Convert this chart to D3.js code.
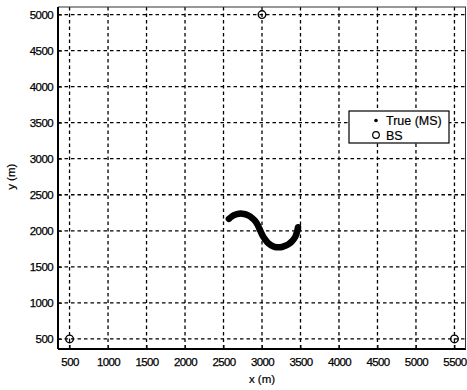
<!DOCTYPE html>
<html>
<head>
<meta charset="utf-8">
<script src="https://cdn.jsdelivr.net/npm/d3@7"></script>
<style>
  body { margin: 0; background: #fff; }
  svg { display: block; font-family: 'Liberation Sans', Arial, sans-serif; }
  .tick-label { font-size: 11.5px; fill: #000; stroke: #000; stroke-width: 0.25px; letter-spacing: -0.6px; }
  .grid line { stroke: #000; stroke-width: 1.3; stroke-dasharray: 3.5,3; }
</style>
</head>
<body>
<div id="chart"></div>
<script>
// MS trajectory (true positions)
const trackX = [2570, 2610, 2650, 2700, 2740, 2790, 2830, 2870, 2910, 2940, 2960, 2985, 3010, 3045, 3080, 3125, 3170, 3215, 3260, 3310, 3350, 3385, 3415, 3440, 3455, 3468];
const trackY = [2165, 2200, 2222, 2236, 2238, 2228, 2208, 2178, 2138, 2090, 2045, 1985, 1930, 1875, 1830, 1795, 1775, 1770, 1775, 1795, 1818, 1850, 1888, 1935, 1985, 2050];

// base stations
const bsX = [500, 3000, 5500];
const bsY = [500, 5000, 500];

const xTicks = [500, 1000, 1500, 2000, 2500, 3000, 3500, 4000, 4500, 5000, 5500];
const yTicks = [500, 1000, 1500, 2000, 2500, 3000, 3500, 4000, 4500, 5000];

const legendLabels = ['True (MS)', 'BS'];

const width = 467, height = 390;
const plot = { left: 58, right: 466, top: 7, bottom: 349 };

const svg = d3.select('#chart').append('svg')
    .attr('width', width)
    .attr('height', height);

const x = d3.scaleLinear().domain([350, 5650]).range([plot.left, plot.right]);
const y = d3.scaleLinear().domain([360, 5105]).range([plot.bottom, plot.top]);

// grid
const grid = svg.append('g').attr('class', 'grid');
grid.selectAll('.vg')
    .data(xTicks)
    .enter()
    .append('line')
    .attr('x1', d => x(d)).attr('x2', d => x(d))
    .attr('y1', plot.top).attr('y2', plot.bottom);
grid.selectAll('.hg')
    .data(yTicks)
    .enter()
    .append('line')
    .attr('x1', plot.left).attr('x2', plot.right)
    .attr('y1', d => y(d)).attr('y2', d => y(d));

// axes (ticks pointing inside, like matlab)
const xAxis = svg.append('g')
    .attr('transform', `translate(0,${plot.bottom})`)
    .call(d3.axisBottom(x).tickValues(xTicks).tickSize(-4).tickPadding(9).tickFormat(d3.format('d')));
const yAxis = svg.append('g')
    .attr('transform', `translate(${plot.left},0)`)
    .call(d3.axisLeft(y).tickValues(yTicks).tickSize(-4).tickPadding(5).tickFormat(d3.format('d')));

[xAxis, yAxis].forEach(a => {
    a.select('.domain').remove();
    a.selectAll('.tick line').attr('stroke', '#111').attr('stroke-width', 1);
    a.selectAll('.tick text').attr('class', 'tick-label').attr('font-family', null).attr('font-size', null);
});

// frame
svg.append('line')
    .attr('x1', plot.left).attr('x2', plot.right)
    .attr('y1', plot.top).attr('y2', plot.top)
    .attr('stroke', '#333').attr('stroke-width', 1.2);
svg.append('line')
    .attr('x1', plot.left).attr('x2', plot.left)
    .attr('y1', plot.top).attr('y2', plot.bottom)
    .attr('stroke', '#000').attr('stroke-width', 2);
svg.append('line')
    .attr('x1', plot.left).attr('x2', plot.right)
    .attr('y1', plot.bottom).attr('y2', plot.bottom)
    .attr('stroke', '#000').attr('stroke-width', 2);
svg.append('line')
    .attr('x1', plot.right - 0.5).attr('x2', plot.right - 0.5)
    .attr('y1', plot.top).attr('y2', plot.bottom)
    .attr('stroke', '#333').attr('stroke-width', 1);

// MS track
const track = trackX.map((v, i) => [v, trackY[i]]);
svg.append('path')
    .datum(track)
    .attr('fill', 'none')
    .attr('stroke', '#000')
    .attr('stroke-width', 6.5)
    .attr('stroke-linecap', 'round')
    .attr('stroke-linejoin', 'round')
    .attr('d', d3.line().x(d => x(d[0])).y(d => y(d[1])).curve(d3.curveCatmullRom));

// base stations
svg.selectAll('.bs')
    .data(bsX.map((v, i) => [v, bsY[i]]))
    .enter()
    .append('circle')
    .attr('class', 'bs')
    .attr('cx', d => x(d[0]))
    .attr('cy', d => y(d[1]))
    .attr('r', 3.8)
    .attr('fill', 'none')
    .attr('stroke', '#000')
    .attr('stroke-width', 1.4);

// axis labels
svg.append('text')
    .attr('x', x(3000))
    .attr('y', 383)
    .attr('text-anchor', 'middle')
    .attr('font-size', '11.5px')
    .attr('stroke', '#000').attr('stroke-width', 0.2)
    .text('x (m)');
svg.append('text')
    .attr('transform', `translate(15,${y(2750)}) rotate(-90)`)
    .attr('text-anchor', 'middle')
    .attr('font-size', '11.5px')
    .attr('stroke', '#000').attr('stroke-width', 0.2)
    .text('y (m)');

// legend
const legend = svg.append('g').attr('transform', 'translate(349,111)');
legend.append('rect')
    .attr('width', 100).attr('height', 32)
    .attr('fill', '#fff')
    .attr('stroke', '#000')
    .attr('stroke-width', 1.2);
legend.append('circle')
    .attr('cx', 27).attr('cy', 9.5).attr('r', 1.8).attr('fill', '#000');
legend.append('circle')
    .attr('cx', 27).attr('cy', 24).attr('r', 3.3)
    .attr('fill', 'none').attr('stroke', '#000').attr('stroke-width', 1.2);
legend.selectAll('.leg-text')
    .data(legendLabels)
    .enter()
    .append('text')
    .attr('x', 37)
    .attr('y', (d, i) => 14 + i * 14.5)
    .attr('font-size', '12.5px')
    .attr('stroke', '#000').attr('stroke-width', 0.2)
    .text(d => d);
</script>
</body>
</html>
